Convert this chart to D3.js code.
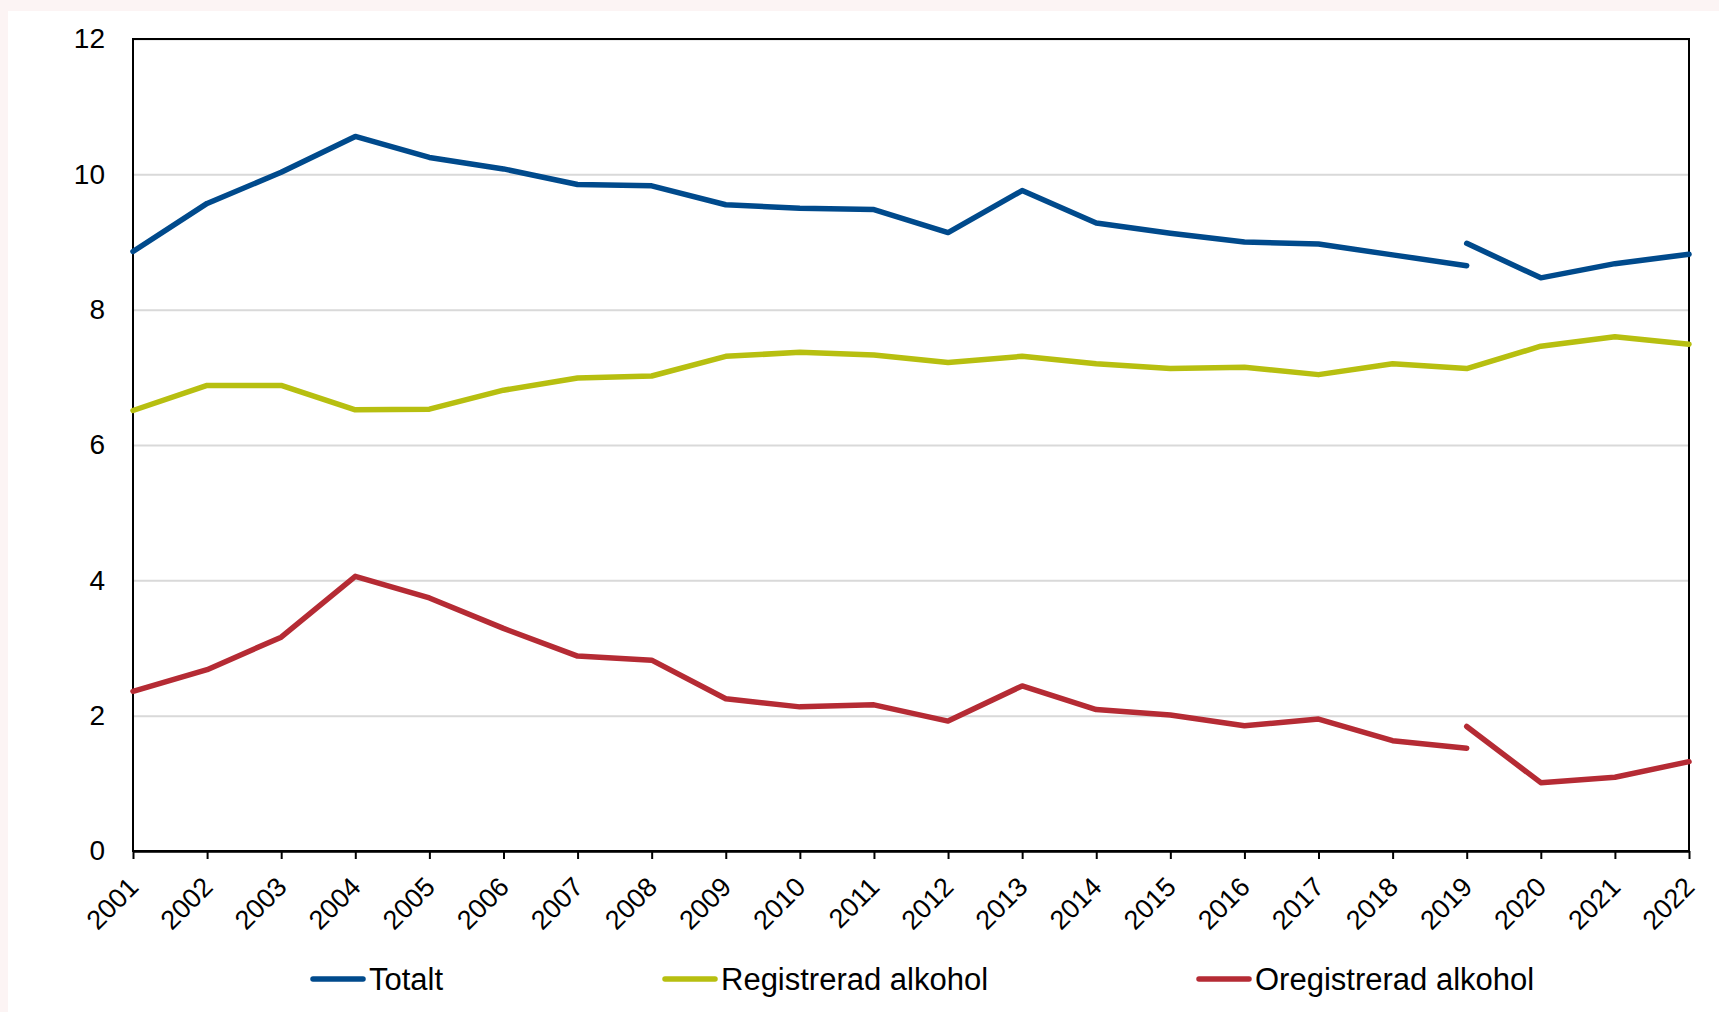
<!DOCTYPE html>
<html>
<head>
<meta charset="utf-8">
<script src="https://cdn.jsdelivr.net/npm/d3@7"></script>
<style>
  html, body { margin: 0; padding: 0; background: #fcf4f4; }
  svg { display: block; }
</style>
</head>
<body>
<svg id="chart_svg"></svg>
<script>
// data (litres per person 15+)
const years = ["2001", "2002", "2003", "2004", "2005", "2006", "2007", "2008", "2009", "2010", "2011",
  "2012", "2013", "2014", "2015", "2016", "2017", "2018", "2019", "2020", "2021", "2022"];
const yTicks = [0, 2, 4, 6, 8, 10, 12];

// series break at 2019 (old method up to 2019, new from 2019)
const totaltOld = [8.86, 9.57, 10.03, 10.56, 10.25, 10.08, 9.85, 9.83, 9.55, 9.50, 9.48,
  9.14, 9.76, 9.28, 9.13, 9.00, 8.97, 8.81, 8.65];
const totaltNew = [8.98, 8.47, 8.68, 8.82];
const registrerad = [6.51, 6.88, 6.88, 6.52, 6.53, 6.81, 6.99, 7.02, 7.31, 7.37, 7.33,
  7.22, 7.31, 7.20, 7.13, 7.15, 7.04, 7.20, 7.13, 7.46, 7.60, 7.49];
const oregOld = [2.36, 2.68, 3.16, 4.06, 3.74, 3.29, 2.88, 2.82, 2.25, 2.13, 2.16,
  1.92, 2.44, 2.09, 2.01, 1.85, 1.95, 1.63, 1.52];
const oregNew = [1.84, 1.01, 1.09, 1.32];

const seriesNames = ["Totalt", "Registrerad alkohol", "Oregistrerad alkohol"];
const seriesColors = ["#004a8c", "#b7bf10", "#b52b34"];

const d3 = window.d3;
const width = 1719, height = 1012;
const margin = { top: 39, right: 30, bottom: 161, left: 133 };
const fontFamily = "'Liberation Sans', Arial, sans-serif";

const svg = d3.select("#chart_svg").attr("width", width).attr("height", height);

// pale outer strip at top and left, white chart area
svg.append("rect").attr("width", width).attr("height", height).attr("fill", "#fcf4f4");
svg.append("rect").attr("x", 8).attr("y", 11).attr("width", width - 8).attr("height", height - 11)
  .attr("fill", "#ffffff");

const x = d3.scalePoint().domain(years).range([margin.left, width - margin.right]);
const y = d3.scaleLinear().domain([0, 12]).range([height - margin.bottom, margin.top]);

// gridlines + y labels
const yAxis = svg.append("g")
  .attr("transform", `translate(${margin.left}, 0)`)
  .call(d3.axisLeft(y).tickValues(yTicks).tickSize(-(width - margin.right - margin.left)).tickPadding(28));
yAxis.select(".domain").remove();
yAxis.selectAll(".tick line").attr("stroke", "#d9d9d9").attr("stroke-width", 2);
yAxis.selectAll(".tick text")
  .attr("font-family", fontFamily).attr("font-size", 28).attr("fill", "#000");

// frame
svg.append("rect")
  .attr("x", margin.left).attr("y", margin.top)
  .attr("width", width - margin.right - margin.left)
  .attr("height", height - margin.bottom - margin.top)
  .attr("fill", "none").attr("stroke", "#000").attr("stroke-width", 2);

// x axis with rotated labels
const xAxis = svg.append("g")
  .attr("transform", `translate(0, ${height - margin.bottom})`)
  .call(d3.axisBottom(x).tickSizeInner(8).tickSizeOuter(0));
xAxis.select(".domain").attr("stroke", "#000").attr("stroke-width", 2.5);
xAxis.selectAll(".tick line").attr("stroke", "#000").attr("stroke-width", 2);
xAxis.selectAll(".tick text")
  .attr("font-family", fontFamily).attr("font-size", 27).attr("fill", "#000")
  .attr("text-anchor", "end")
  .attr("x", 0).attr("y", 0).attr("dy", "0.35em")
  .attr("transform", "translate(0, 31) rotate(-45)");

const line = d3.line().x((d) => x(d.year)).y((d) => y(d.value));
const toPoints = (values, offset) => values.map((v, i) => ({ year: years[i + offset], value: v }));

const segments = [
  { data: toPoints(totaltOld, 0), color: seriesColors[0] },
  { data: toPoints(totaltNew, 18), color: seriesColors[0] },
  { data: toPoints(registrerad, 0), color: seriesColors[1] },
  { data: toPoints(oregOld, 0), color: seriesColors[2] },
  { data: toPoints(oregNew, 18), color: seriesColors[2] },
];

svg.append("g").selectAll("path")
  .data(segments)
  .enter()
  .append("path")
  .attr("d", (d) => line(d.data))
  .attr("fill", "none")
  .attr("stroke", (d) => d.color)
  .attr("stroke-width", 5.5)
  .attr("stroke-linejoin", "round")
  .attr("stroke-linecap", "round");

// legend
const legendX = [313, 665, 1199];
const legend = svg.append("g").selectAll("g")
  .data(seriesNames)
  .enter()
  .append("g")
  .attr("transform", (d, i) => `translate(${legendX[i]}, 979)`);
legend.append("line")
  .attr("x1", 0).attr("x2", 50).attr("y1", 0).attr("y2", 0)
  .attr("stroke", (d, i) => seriesColors[i])
  .attr("stroke-width", 5.5).attr("stroke-linecap", "round");
legend.append("text")
  .attr("x", 56).attr("y", 0).attr("dy", "0.35em")
  .attr("font-family", fontFamily).attr("font-size", 31).attr("fill", "#000")
  .text((d) => d);
</script>
</body>
</html>
